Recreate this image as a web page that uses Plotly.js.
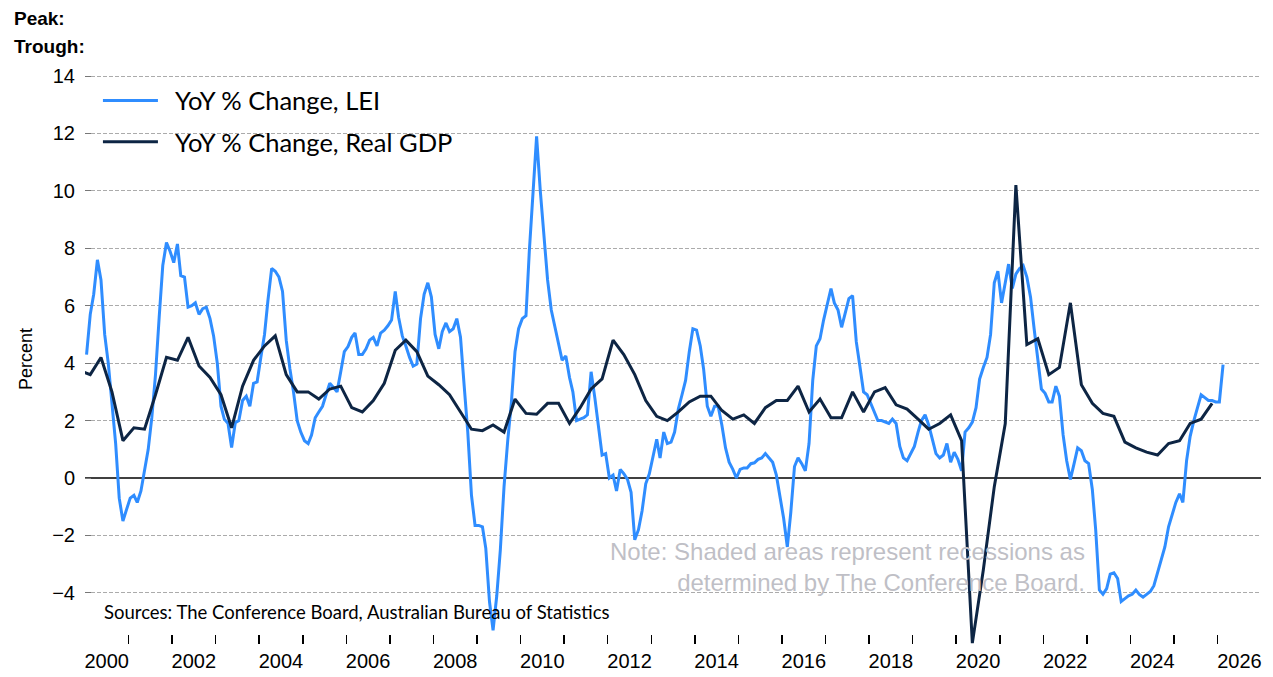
<!DOCTYPE html>
<html><head><meta charset="utf-8">
<script src="https://cdn.plot.ly/plotly-3.0.1.min.js"></script>
<style>html,body{margin:0;padding:0;background:#fff;overflow:hidden}</style>
</head><body><div id="chart" style="width:1273px;height:677px"></div>
<script>
// ---- data ----
const leiStartYear = 2000;            // monthly, first month Jan 2000
const leiValues = [
  4.3, 5.7, 6.4, 7.6, 6.9, 5.0, 4.0, 2.5, 1.2, -0.7, -1.5, -1.1,          // 2000
  -0.7, -0.6, -0.85, -0.45, 0.2, 1.0, 2.1, 3.6, 5.6, 7.4, 8.2, 7.9,        // 2001
  7.5, 8.15, 7.05, 7.0, 5.95, 6.0, 6.1, 5.7, 5.9, 5.95, 5.55, 4.95,        // 2002
  4.0, 2.5, 2.05, 1.9, 1.06, 1.93, 2.0, 2.7, 2.85, 2.5, 3.3, 3.35,         // 2003
  4.2, 5.0, 6.2, 7.3, 7.2, 7.0, 6.5, 4.8, 3.8, 3.0, 2.0, 1.6,              // 2004
  1.3, 1.2, 1.5, 2.1, 2.3, 2.5, 2.9, 3.3, 3.15, 3.0, 3.7, 4.4,             // 2005
  4.58, 4.9, 5.05, 4.3, 4.3, 4.5, 4.8, 4.9, 4.6, 5.05, 5.15, 5.3,          // 2006
  5.5, 6.5, 5.6, 4.95, 4.6, 4.2, 3.9, 3.97, 5.55, 6.4, 6.8, 6.3,           // 2007
  5.0, 4.5, 5.1, 5.4, 5.1, 5.2, 5.55, 4.9, 3.2, 1.6, -0.6, -1.65,          // 2008
  -1.65, -1.7, -2.45, -4.3, -5.3, -4.1, -2.5, -0.3, 1.3, 2.6, 4.4, 5.2,    // 2009
  5.55, 5.65, 7.9, 9.8, 11.9, 10.0, 8.4, 6.9, 5.85, 5.3, 4.65, 4.1,        // 2010
  4.25, 3.5, 3.0, 2.0, 2.05, 2.1, 2.2, 3.7, 2.8, 1.8, 0.8, 0.85,           // 2011
  0.0, 0.1, -0.45, 0.3, 0.15, -0.05, -0.5, -2.15, -1.8, -1.15, -0.2, 0.15, // 2012
  0.7, 1.35, 0.7, 1.6, 1.2, 1.25, 1.6, 2.4, 2.9, 3.4, 4.4, 5.2,            // 2013
  5.15, 4.6, 3.8, 2.5, 2.15, 2.5, 2.5, 1.85, 1.05, 0.55, 0.3, 0.0,         // 2014
  0.3, 0.35, 0.35, 0.5, 0.53, 0.65, 0.7, 0.85, 0.7, 0.55, 0.1, -0.7,       // 2015
  -1.4, -2.4, -1.2, 0.4, 0.7, 0.5, 0.25, 1.2, 3.4, 4.6, 4.85, 5.5,         // 2016
  6.1, 6.6, 6.1, 5.85, 5.25, 5.8, 6.25, 6.35, 4.75, 3.9, 3.0, 2.9,         // 2017
  2.6, 2.25, 2.0, 2.0, 1.95, 1.9, 2.05, 1.9, 1.1, 0.7, 0.6, 0.85,          // 2018
  1.1, 1.6, 2.0, 2.2, 1.85, 1.35, 0.85, 0.7, 0.8, 1.2, 0.55, 0.9,          // 2019
  0.65, 0.25, 1.6, 1.75, 1.95, 2.45, 3.45, 3.85, 4.2, 5.0, 6.8, 7.2,       // 2020
  6.1, 6.8, 7.45, 6.6, 7.1, 7.3, 7.4, 7.0, 6.3, 5.2, 4.2, 3.1,             // 2021
  2.95, 2.65, 2.65, 3.2, 2.85, 1.5, 0.6, -0.05, 0.5, 1.05, 0.95, 0.6,      // 2022
  0.5, -0.4, -1.8, -3.9, -4.05, -3.85, -3.35, -3.3, -3.5, -4.3, -4.2, -4.1,// 2023
  -4.05, -3.9, -4.05, -4.15, -4.05, -3.95, -3.75, -3.3, -2.9, -2.4, -1.7, -1.25, // 2024
  -0.85, -0.55, -0.85, 0.6, 1.45, 2.0, 2.4, 2.9, 2.8, 2.7, 2.7, 2.65,      // 2025
  2.65, 3.95                                                               // 2026
];

const gdpStartYear = 1999;            // quarterly, first quarter Q4 1999
const gdpStartQuarter = 4;
const gdpValues = [
  3.75,                     // 1999 Q4
  3.6, 4.2, 3.0, 1.3,       // 2000
  1.75, 1.7, 2.9, 4.2,      // 2001
  4.1, 4.9, 3.9, 3.5,       // 2002
  2.9, 1.75, 3.2, 4.1,      // 2003
  4.6, 4.95, 3.6, 3.0,      // 2004
  3.0, 2.75, 3.1, 3.2,      // 2005
  2.45, 2.3, 2.7, 3.3,      // 2006
  4.45, 4.8, 4.4, 3.55,     // 2007
  3.25, 2.9, 2.3, 1.7,      // 2008
  1.65, 1.85, 1.6, 2.75,    // 2009
  2.25, 2.22, 2.6, 2.6,     // 2010
  1.9, 2.45, 3.1, 3.45,     // 2011
  4.8, 4.3, 3.6, 2.7,       // 2012
  2.15, 2.0, 2.3, 2.65,     // 2013
  2.85, 2.85, 2.35, 2.05,   // 2014
  2.2, 1.9, 2.45, 2.7,      // 2015
  2.7, 3.2, 2.3, 2.75,      // 2016
  2.1, 2.1, 3.0, 2.3,       // 2017
  3.0, 3.15, 2.55, 2.4,     // 2018
  2.05, 1.7, 1.9, 2.2,      // 2019
  1.3, -5.75, -3.2, -0.3,   // 2020
  1.9, 10.2, 4.65, 4.85,    // 2021
  3.6, 3.85, 6.1, 3.25,     // 2022
  2.6, 2.25, 2.15, 1.25,    // 2023
  1.05, 0.9, 0.8, 1.2,      // 2024
  1.3, 1.9, 2.05, 2.6       // 2025
];

const xTickLabels = ['2000','2002','2004','2006','2008','2010','2012','2014','2016','2018','2020','2022','2024','2026'];
const yTickValues = [-4, -2, 0, 2, 4, 6, 8, 10, 12, 14];
const seriesNames = ['YoY % Change, LEI', 'YoY % Change, Real GDP'];

// ---- build dates ----
function pad(n) { return (n < 10 ? '0' : '') + n; }
const leiDates = leiValues.map((v, i) => {
  const y = leiStartYear + Math.floor(i / 12);
  return y + '-' + pad(i % 12 + 1) + '-15';
});
const gdpDates = gdpValues.map((v, i) => {
  const q = (gdpStartQuarter - 1) + i;
  const y = gdpStartYear + Math.floor(q / 4);
  return y + '-' + pad((q % 4) * 3 + 2) + '-15';
});
const xTickVals = xTickLabels.map(y => y + '-07-02');
const xRange = ['2000-01-02', '2026-12-30'];

const AR = '"Liberation Sans", Arial, sans-serif';
const CAL = 'Lato, "Open Sans", sans-serif';
const GAP = '\u00a0\u00a0';

const traces = [
  { x: leiDates, y: leiValues, name: GAP + seriesNames[0], type: 'scatter', mode: 'lines',
    xaxis: 'x', yaxis: 'y',
    line: { color: '#2F8DFF', width: 3 }, legendgroup: 'a' },
  { x: gdpDates, y: gdpValues, name: GAP + seriesNames[1], type: 'scatter', mode: 'lines',
    xaxis: 'x2', yaxis: 'y',
    line: { color: '#0D2544', width: 3 }, legendgroup: 'b' }
];

const layout = {
  width: 1273, height: 677,
  margin: { l: 85, r: 12, t: 74, b: 33, pad: 0 },
  paper_bgcolor: '#fff', plot_bgcolor: '#fff',
  showlegend: true,
  legend: {
    x: 0.011, xanchor: 'left', y: 0.994, yanchor: 'top',
    font: { family: CAL, size: 25.5, color: '#000' },
    bgcolor: 'rgba(0,0,0,0)', borderwidth: 0,
    traceorder: 'grouped', tracegroupgap: 5, itemwidth: 55
  },
  xaxis: {
    type: 'date', range: xRange,
    tickmode: 'linear', tick0: '2000-01-01', dtick: 'M12',
    ticks: 'inside', ticklen: 9, tickwidth: 1.5, tickcolor: '#000',
    showticklabels: false, showgrid: false, zeroline: false, showline: false,
    fixedrange: true
  },
  xaxis2: {
    type: 'date', range: xRange, overlaying: 'x', anchor: 'y', side: 'bottom',
    tickmode: 'array', tickvals: xTickVals, ticktext: xTickLabels,
    ticks: '', showgrid: false, zeroline: false, showline: false,
    ticklabelstandoff: 3,
    tickfont: { family: AR, size: 20, color: '#000' },
    fixedrange: true
  },
  yaxis: {
    range: [-5.78, 14.07], tickmode: 'array', tickvals: yTickValues,
    ticks: 'inside', ticklen: 6, tickcolor: '#777', tickwidth: 1,
    ticklabelstandoff: 9,
    showgrid: true, gridcolor: '#ababab', gridwidth: 1, griddash: '4px,2px',
    zeroline: true, zerolinecolor: '#404040', zerolinewidth: 1.5,
    showline: false,
    tickfont: { family: AR, size: 20, color: '#000' },
    title: { text: 'Percent', font: { family: AR, size: 18, color: '#000' }, standoff: 14 },
    fixedrange: true
  },
  annotations: [
    { xref: 'paper', yref: 'paper', x: -0.062, y: 1.097, xanchor: 'left', yanchor: 'middle',
      text: '<b>Peak:</b>', showarrow: false, font: { family: AR, size: 19, color: '#000' } },
    { xref: 'paper', yref: 'paper', x: -0.062, y: 1.049, xanchor: 'left', yanchor: 'middle',
      text: '<b>Trough:</b>', showarrow: false, font: { family: AR, size: 19, color: '#000' } },
    { xref: 'paper', yref: 'paper', x: 0.0145, y: 0.056, xanchor: 'left', yanchor: 'middle',
      text: 'Sources: The Conference Board, Australian Bureau of Statistics', showarrow: false,
      font: { family: CAL, size: 18.5, color: '#000' } },
    { xref: 'paper', yref: 'paper', x: 0.852, y: 0.135, xanchor: 'right', yanchor: 'middle', align: 'right',
      text: 'Note: Shaded areas represent recessions as<br>determined by The Conference Board.',
      showarrow: false, font: { family: AR, size: 24, color: '#BFBFC6' } }
  ]
};

Plotly.newPlot('chart', traces, layout, { displayModeBar: false, staticPlot: true });
</script>
</body></html>
